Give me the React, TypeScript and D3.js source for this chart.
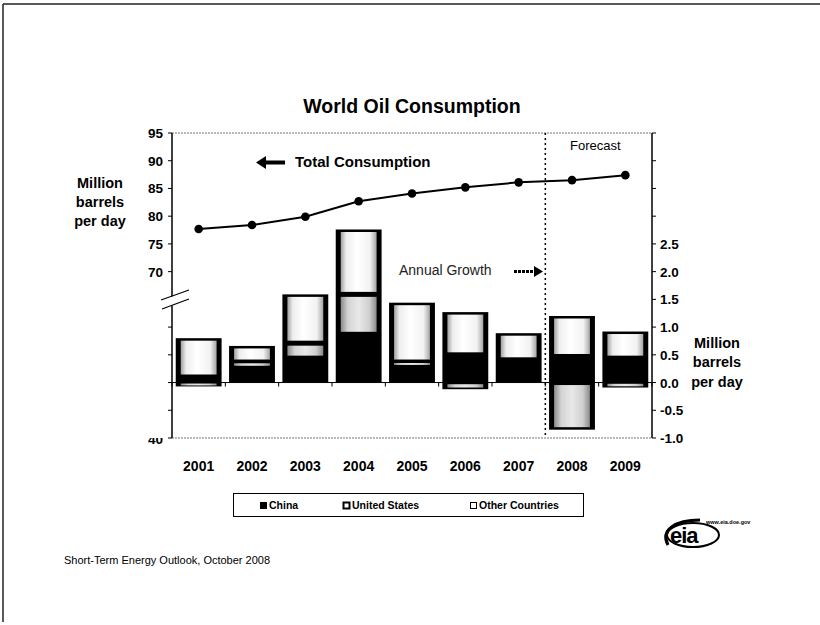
import React from 'react';
import * as d3 from 'd3';

const years = ['2001', '2002', '2003', '2004', '2005', '2006', '2007', '2008', '2009'];
const totalConsumption = [77.7, 78.4, 79.9, 82.7, 84.1, 85.2, 86.1, 86.5, 87.4];
const chinaGrowth = [0.1, 0.28, 0.44, 0.87, 0.3, 0.5, 0.41, 0.47, 0.44];
const usGrowth = [-0.07, 0.09, 0.27, 0.72, 0.07, -0.12, 0.0, -0.85, -0.09];
const otherGrowth = [0.7, 0.29, 0.88, 1.17, 1.07, 0.77, 0.48, 0.73, 0.48];
const leftTicks = [40, 45, 50, 55, 60, 65, 70, 75, 80, 85, 90, 95];
const leftLabels = [70, 75, 80, 85, 90, 95];
const rightTicks = [-1, -0.5, 0, 0.5, 1, 1.5, 2, 2.5, 3, 3.5, 4, 4.5];
const rightLabels = [-1, -0.5, 0, 0.5, 1, 1.5, 2, 2.5];
const seriesKeys = ['China', 'United States', 'Other Countries'];

const FONT = '"Liberation Sans", Arial, sans-serif';

export default function App() {
  const L = 172, R = 652, T = 133, B = 438;
  const x = d3.scaleBand<string>().domain(years).range([L, R]).paddingInner(0.14).paddingOuter(0.07);
  const xStep = (R - L) / years.length;
  const yL = d3.scaleLinear().domain([40, 95]).range([B, T]);
  const yR = d3.scaleLinear().domain([-1, 4.5]).range([B, T]);

  const rows = years.map((yr, i) => ({
    year: yr,
    China: chinaGrowth[i],
    'United States': usGrowth[i],
    'Other Countries': otherGrowth[i],
  }));
  const stacked = d3.stack<any>().keys(seriesKeys).offset(d3.stackOffsetDiverging)(rows);

  const line = d3.line<number>().x((_, i) => (x(years[i]) as number) + x.bandwidth() / 2).y((d) => yL(d));

  const forecastX = L + 7 * xStep;
  const zeroY = yR(0);
  const fmt = (t: number) => d3.format('.1f')(t).replace('\u2212', '-');

  return (
    <svg width={820} height={625} style={{ position: 'absolute', left: 0, top: 0, background: '#fff' }} fontFamily={FONT}>
      <defs>
        <linearGradient id="gOther" x1="0" x2="1" y1="0" y2="0">
          <stop offset="0%" stopColor="#a0a0a0" />
          <stop offset="15%" stopColor="#eeeeee" />
          <stop offset="45%" stopColor="#ffffff" />
          <stop offset="82%" stopColor="#f2f2f2" />
          <stop offset="100%" stopColor="#a5a5a5" />
        </linearGradient>
        <linearGradient id="gUS" x1="0" x2="1" y1="0" y2="0">
          <stop offset="0%" stopColor="#8a8a8a" />
          <stop offset="20%" stopColor="#d4d4d4" />
          <stop offset="50%" stopColor="#e8e8e8" />
          <stop offset="80%" stopColor="#cfcfcf" />
          <stop offset="100%" stopColor="#8a8a8a" />
        </linearGradient>
        <clipPath id="clip40">
          <rect x={130} y={438} width={40} height={20} />
        </clipPath>
      </defs>

      {/* slide frame */}
      <line x1={3} y1={4} x2={820} y2={4} stroke="#222" strokeWidth={1.5} />
      <line x1={3} y1={4} x2={3} y2={622} stroke="#222" strokeWidth={1.5} />

      {/* title */}
      <text x={412} y={113} textAnchor="middle" fontSize={19.5} fontWeight="bold">World Oil Consumption</text>

      {/* plot border top/bottom dotted */}
      <line x1={L} y1={T} x2={R} y2={T} stroke="#777" strokeWidth={1} strokeDasharray="2,1" />
      <line x1={L} y1={B} x2={R} y2={B} stroke="#777" strokeWidth={1} strokeDasharray="2,1" />

      {/* bars */}
      {years.map((yr, i) => {
        const segs = stacked.map((s) => ({ key: s.key, lo: s[i][0], hi: s[i][1] }));
        const minV = d3.min(segs, (s) => s.lo) as number;
        const maxV = d3.max(segs, (s) => s.hi) as number;
        const bx = x(yr) as number;
        const bw = x.bandwidth();
        return (
          <g key={yr}>
            <rect x={bx} y={yR(maxV)} width={bw} height={yR(minV) - yR(maxV)} fill="#000" />
            {segs
              .filter((s) => s.key !== 'China' && Math.abs(s.hi - s.lo) > 0.01)
              .map((s) => {
                const y0 = yR(s.hi);
                const h = yR(s.lo) - yR(s.hi);
                const inset = Math.min(2.5, h * 0.25);
                return (
                  <rect
                    key={s.key}
                    x={bx + 5}
                    y={y0 + inset}
                    width={bw - 10}
                    height={h - 2 * inset}
                    fill={s.key === 'United States' ? 'url(#gUS)' : 'url(#gOther)'}
                  />
                );
              })}
          </g>
        );
      })}

      {/* category axis at zero */}
      <line x1={L} y1={zeroY} x2={R} y2={zeroY} stroke="#000" strokeWidth={1} />
      {d3.range(years.length + 1).map((k) => (
        <line key={k} x1={L + k * xStep} x2={L + k * xStep} y1={zeroY} y2={zeroY + 4} stroke="#000" strokeWidth={1} />
      ))}

      {/* forecast divider */}
      <line x1={forecastX} y1={T} x2={forecastX} y2={B} stroke="#000" strokeWidth={1.5} strokeDasharray="2,3" />

      {/* left axis */}
      <line x1={L} y1={T} x2={L} y2={B} stroke="#000" strokeWidth={1.5} />
      {leftTicks.map((t) => (
        <line key={t} x1={L - 4} x2={L} y1={yL(t)} y2={yL(t)} stroke="#000" strokeWidth={1} />
      ))}
      {leftLabels.map((t) => (
        <text key={t} x={L - 9} y={yL(t) + 5} textAnchor="end" fontSize={13.5} fontWeight="bold">{t}</text>
      ))}
      <text x={L - 9} y={yL(40) + 6} textAnchor="end" fontSize={13.5} fontWeight="bold" clipPath="url(#clip40)">40</text>

      {/* axis break */}
      <polygon points="160,301 190,290 190,299 160,310" fill="#fff" />
      <line x1={161} y1={300} x2={189} y2={290} stroke="#000" strokeWidth={1.2} />
      <line x1={162} y1={309} x2={189} y2={299} stroke="#000" strokeWidth={1.2} />

      {/* right axis */}
      <line x1={R} y1={T} x2={R} y2={B} stroke="#000" strokeWidth={1.5} />
      {rightTicks.map((t) => (
        <line key={t} x1={R} x2={R + 4} y1={yR(t)} y2={yR(t)} stroke="#000" strokeWidth={1} />
      ))}
      {rightLabels.map((t) => (
        <text key={t} x={R + 8} y={yR(t) + 5} textAnchor="start" fontSize={13.5} fontWeight="bold">{fmt(t)}</text>
      ))}

      {/* total consumption line */}
      <path d={line(totalConsumption) as string} fill="none" stroke="#000" strokeWidth={2} />
      {totalConsumption.map((v, i) => (
        <circle key={i} cx={(x(years[i]) as number) + x.bandwidth() / 2} cy={yL(v)} r={4.3} fill="#000" />
      ))}

      {/* x labels */}
      {years.map((yr) => (
        <text key={yr} x={(x(yr) as number) + x.bandwidth() / 2} y={471} textAnchor="middle" fontSize={14} fontWeight="bold">{yr}</text>
      ))}

      {/* axis titles */}
      <text textAnchor="middle" fontSize={14.5} fontWeight="bold">
        <tspan x={100} y={188}>Million</tspan>
        <tspan x={100} y={207}>barrels</tspan>
        <tspan x={100} y={226}>per day</tspan>
      </text>
      <text textAnchor="middle" fontSize={14.5} fontWeight="bold">
        <tspan x={717} y={348}>Million</tspan>
        <tspan x={717} y={367}>barrels</tspan>
        <tspan x={717} y={387}>per day</tspan>
      </text>

      {/* annotations */}
      <polygon points="256,162.5 266,156 266,160.5 285,160.5 285,164.5 266,164.5 266,169" fill="#000" />
      <text x={295} y={167} fontSize={15} fontWeight="bold">Total Consumption</text>
      <text x={399} y={275} fontSize={14} fill="#222">Annual Growth</text>
      <line x1={514} y1={271.5} x2={535} y2={271.5} stroke="#000" strokeWidth={3} strokeDasharray="3,1" />
      <polygon points="534,266 543,271.5 534,277" fill="#000" />
      <text x={570} y={150} fontSize={13}>Forecast</text>

      {/* legend */}
      <rect x={233.5} y={493.5} width={350} height={23} fill="#fff" stroke="#000" strokeWidth={1} />
      <rect x={260} y={502} width={7} height={7} fill="#000" />
      <text x={269} y={509} fontSize={10.5} fontWeight="bold">China</text>
      <rect x={343.5} y={502.5} width={6} height={6} fill="#fff" stroke="#000" strokeWidth={2} />
      <text x={352} y={509} fontSize={10.5} fontWeight="bold">United States</text>
      <rect x={470.5} y={502.5} width={6} height={6} fill="#fff" stroke="#000" strokeWidth={1} />
      <text x={479} y={509} fontSize={10.5} fontWeight="bold">Other Countries</text>

      {/* footer */}
      <text x={64} y={564} fontSize={11}>Short-Term Energy Outlook, October 2008</text>

      {/* EIA logo */}
      <path d="M 668 545 C 660 530, 675 520, 700 520" fill="none" stroke="#000" strokeWidth={3} />
      <text x={670} y={543} fontSize={22} fontWeight="bold" letterSpacing={-1}>eia</text>
      <ellipse cx={693} cy={535} rx={26} ry={12} fill="none" stroke="#000" strokeWidth={2} />
      <text x={706} y={524} fontSize={5.5} fontWeight="bold">www.eia.doe.gov</text>
    </svg>
  );
}
